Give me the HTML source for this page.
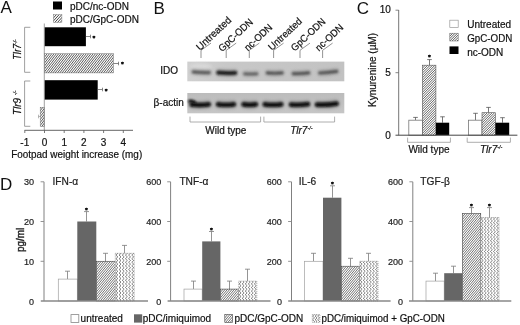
<!DOCTYPE html>
<html><head><meta charset="utf-8"><title>Figure</title>
<style>
html,body{margin:0;padding:0;background:#fff;}
body{width:520px;height:325px;overflow:hidden;}
svg{display:block;font-family:"Liberation Sans",Arial,sans-serif;}
.t{fill:#111;font-size:10px;stroke:#111;stroke-width:0.2px;}
.pl{fill:#111;font-size:17px;}
.d{fill:#222;font-size:9.6px;stroke:#222;stroke-width:0.2px;}
.dt{fill:#222;font-size:10.2px;stroke:#222;stroke-width:0.2px;}
.s{fill:#111;font-size:6px;font-weight:bold;stroke:#111;stroke-width:0.75px;stroke-linejoin:round;text-anchor:middle;}
</style></head><body>
<svg width="520" height="325" viewBox="0 0 520 325">
<defs>
<filter id="bl" filterUnits="userSpaceOnUse" x="180" y="55" width="170" height="65"><feGaussianBlur stdDeviation="0.85"/></filter>
<filter id="bl3" filterUnits="userSpaceOnUse" x="180" y="55" width="170" height="65"><feGaussianBlur stdDeviation="1.4"/></filter>
<linearGradient id="gI" x1="0" y1="0" x2="1" y2="0"><stop offset="0" stop-color="#d0d0d0"/><stop offset="0.25" stop-color="#c8c8c8"/><stop offset="1" stop-color="#c2c2c2"/></linearGradient>
<linearGradient id="gA" x1="0" y1="0" x2="0" y2="1"><stop offset="0" stop-color="#bcbcbc"/><stop offset="1" stop-color="#c6c6c6"/></linearGradient>
<filter id="bl2" filterUnits="userSpaceOnUse" x="180" y="55" width="170" height="65"><feGaussianBlur stdDeviation="0.8"/></filter>
</defs>
<rect width="520" height="325" fill="#fff"/>

<g id="panelA">
<text class="pl" x="0.6" y="13.2">A</text>
<rect x="53" y="1.5" width="9" height="8" fill="#000"/>
<clipPath id="c1"><rect x="53.30" y="14.60" width="8.60" height="7.80"/></clipPath>
<rect x="53.30" y="14.60" width="8.60" height="7.80" fill="#fff"/>
<g clip-path="url(#c1)"><path d="M43.58,22.90L51.50,14.10M46.28,22.90L54.20,14.10M48.98,22.90L56.90,14.10M51.68,22.90L59.60,14.10M54.38,22.90L62.30,14.10M57.08,22.90L65.00,14.10M59.78,22.90L67.70,14.10M62.48,22.90L70.40,14.10" stroke="#222" stroke-width="0.85" fill="none"/></g>
<rect x="53.30" y="14.60" width="8.60" height="7.80" fill="none" stroke="#888" stroke-width="0.5"/>
<text class="t" x="70" y="10">pDC/nc-ODN</text>
<text class="t" x="70" y="22.7">pDC/GpC-ODN</text>
<rect x="44.5" y="27.3" width="41.4" height="18.9" fill="#000"/>
<clipPath id="c2"><rect x="44.50" y="53.70" width="68.95" height="19.20"/></clipPath>
<rect x="44.50" y="53.70" width="68.95" height="19.20" fill="#fff"/>
<g clip-path="url(#c2)"><path d="M27.20,73.40L42.98,53.20M29.50,73.40L45.28,53.20M31.80,73.40L47.58,53.20M34.10,73.40L49.88,53.20M36.40,73.40L52.18,53.20M38.70,73.40L54.48,53.20M41.00,73.40L56.78,53.20M43.30,73.40L59.08,53.20M45.60,73.40L61.38,53.20M47.90,73.40L63.68,53.20M50.20,73.40L65.98,53.20M52.50,73.40L68.28,53.20M54.80,73.40L70.58,53.20M57.10,73.40L72.88,53.20M59.40,73.40L75.18,53.20M61.70,73.40L77.48,53.20M64.00,73.40L79.78,53.20M66.30,73.40L82.08,53.20M68.60,73.40L84.38,53.20M70.90,73.40L86.68,53.20M73.20,73.40L88.98,53.20M75.50,73.40L91.28,53.20M77.80,73.40L93.58,53.20M80.10,73.40L95.88,53.20M82.40,73.40L98.18,53.20M84.70,73.40L100.48,53.20M87.00,73.40L102.78,53.20M89.30,73.40L105.08,53.20M91.60,73.40L107.38,53.20M93.90,73.40L109.68,53.20M96.20,73.40L111.98,53.20M98.50,73.40L114.28,53.20M100.80,73.40L116.58,53.20M103.10,73.40L118.88,53.20M105.40,73.40L121.18,53.20M107.70,73.40L123.48,53.20M110.00,73.40L125.78,53.20M112.30,73.40L128.08,53.20M114.60,73.40L130.38,53.20" stroke="#222" stroke-width="0.74" fill="none"/></g>
<rect x="44.50" y="53.70" width="68.95" height="19.20" fill="none" stroke="#777" stroke-width="0.5"/>
<rect x="44.5" y="80.2" width="53.2" height="19.4" fill="#000"/>
<clipPath id="c3"><rect x="40.20" y="107.30" width="4.20" height="19.30"/></clipPath>
<rect x="40.20" y="107.30" width="4.20" height="19.30" fill="#fff"/>
<g clip-path="url(#c3)"><path d="M22.82,127.10L38.68,106.80M25.12,127.10L40.98,106.80M27.42,127.10L43.28,106.80M29.72,127.10L45.58,106.80M32.02,127.10L47.88,106.80M34.32,127.10L50.18,106.80M36.62,127.10L52.48,106.80M38.92,127.10L54.78,106.80M41.22,127.10L57.08,106.80M43.52,127.10L59.38,106.80M45.82,127.10L61.68,106.80" stroke="#222" stroke-width="0.74" fill="none"/></g>
<rect x="40.20" y="107.30" width="4.20" height="19.30" fill="none" stroke="#777" stroke-width="0.5"/>
<path d="M85.9,36.5 H90.5 M90.5,34.7 V38.3" stroke="#555" stroke-width="0.7" fill="none"/>
<path d="M113.5,63.5 H118.5 M118.5,61.7 V65.3" stroke="#555" stroke-width="0.7" fill="none"/>
<path d="M97.7,89.5 H102.5 M102.5,87.7 V91.3" stroke="#555" stroke-width="0.7" fill="none"/>
<path d="M40.2,116.5 H38.5 M38.5,114.7 V118.3" stroke="#999" stroke-width="0.7" fill="none"/>
<text class="s" x="93.8" y="39.7">*</text>
<text class="s" x="122.4" y="66.2">*</text>
<text class="s" x="106.2" y="93.0">*</text>
<path d="M44.3,23.5 V130.3" stroke="#888" stroke-width="0.8" fill="none"/>
<path d="M24.5,130.3 H133" stroke="#555" stroke-width="0.9" fill="none"/>
<path d="M24.8,130.3 V133" stroke="#555" stroke-width="0.8"/>
<text class="t" x="24.8" y="145.7" text-anchor="middle">-1</text>
<path d="M44.5,130.3 V133" stroke="#555" stroke-width="0.8"/>
<text class="t" x="44.5" y="145.7" text-anchor="middle">0</text>
<path d="M64.2,130.3 V133" stroke="#555" stroke-width="0.8"/>
<text class="t" x="64.2" y="145.7" text-anchor="middle">1</text>
<path d="M83.9,130.3 V133" stroke="#555" stroke-width="0.8"/>
<text class="t" x="83.9" y="145.7" text-anchor="middle">2</text>
<path d="M103.6,130.3 V133" stroke="#555" stroke-width="0.8"/>
<text class="t" x="103.6" y="145.7" text-anchor="middle">3</text>
<path d="M123.3,130.3 V133" stroke="#555" stroke-width="0.8"/>
<text class="t" x="123.3" y="145.7" text-anchor="middle">4</text>
<text class="t" x="11.2" y="157.6" textLength="131" lengthAdjust="spacingAndGlyphs">Footpad weight increase (mg)</text>
<path d="M30.3,27.3 H24.6 V72.3 H30.3" stroke="#888" stroke-width="0.8" fill="none"/>
<path d="M30.3,81 H24.6 V126.3 H30.3" stroke="#888" stroke-width="0.8" fill="none"/>
<text class="t" font-style="italic" transform="translate(20.8,59.8) rotate(-90)" textLength="20.3" lengthAdjust="spacingAndGlyphs">Tlr7<tspan font-size="5" dy="-4">-/-</tspan></text>
<text class="t" font-style="italic" transform="translate(20.8,115) rotate(-90)" textLength="24.5" lengthAdjust="spacingAndGlyphs">Tlr9 <tspan font-size="5" dy="-4">-/-</tspan></text>
</g>
<g id="panelB">
<text class="pl" x="153.6" y="13.6">B</text>
<rect x="187.3" y="61.6" width="157" height="19.7" fill="url(#gI)"/>
<rect x="187.3" y="93" width="157" height="20.3" fill="url(#gA)"/>
<ellipse cx="201" cy="66.5" rx="11" ry="3" fill="#dcdcdc" opacity="0.8" filter="url(#bl3)"/>
<path d="M193.8,71.9 Q201.2,72.8 208.7,72.6" stroke="#787878" stroke-width="5.7" stroke-linecap="round" fill="none" opacity="0.55" filter="url(#bl3)"/>
<path d="M193.1,71.9 Q201.2,72.8 209.4,72.6" stroke="#4c4c4c" stroke-width="2.1" stroke-linecap="round" fill="none" opacity="1" filter="url(#bl)"/>
<path d="M219.2,72.6 Q226.8,73.4 234.3,72.8" stroke="#787878" stroke-width="7.300000000000001" stroke-linecap="round" fill="none" opacity="0.55" filter="url(#bl3)"/>
<path d="M218.3,72.6 Q226.8,73.4 235.2,72.8" stroke="#1c1c1c" stroke-width="3.7" stroke-linecap="round" fill="none" opacity="1" filter="url(#bl)"/>
<path d="M245.3,73.8 Q250.8,74.2 256.2,73.8" stroke="#787878" stroke-width="5.6" stroke-linecap="round" fill="none" opacity="0.55" filter="url(#bl3)"/>
<path d="M244.5,73.8 Q250.8,74.2 257.0,73.8" stroke="#585858" stroke-width="2.0" stroke-linecap="round" fill="none" opacity="1" filter="url(#bl)"/>
<path d="M267.9,72.9 Q274.7,73.6 281.5,72.9" stroke="#787878" stroke-width="5.800000000000001" stroke-linecap="round" fill="none" opacity="0.55" filter="url(#bl3)"/>
<path d="M267.1,72.9 Q274.7,73.6 282.3,72.9" stroke="#464646" stroke-width="2.2" stroke-linecap="round" fill="none" opacity="1" filter="url(#bl)"/>
<path d="M293.9,73.6 Q301.0,74.0 308.1,72.9" stroke="#787878" stroke-width="5.800000000000001" stroke-linecap="round" fill="none" opacity="0.55" filter="url(#bl3)"/>
<path d="M293.1,73.6 Q301.0,74.0 308.9,72.9" stroke="#464646" stroke-width="2.2" stroke-linecap="round" fill="none" opacity="1" filter="url(#bl)"/>
<path d="M320.4,73.0 Q328.2,72.8 336.1,71.4" stroke="#787878" stroke-width="5.800000000000001" stroke-linecap="round" fill="none" opacity="0.55" filter="url(#bl3)"/>
<path d="M319.6,73.0 Q328.2,72.8 336.9,71.4" stroke="#464646" stroke-width="2.2" stroke-linecap="round" fill="none" opacity="1" filter="url(#bl)"/>
<path d="M192.6,104.6 Q200.2,105.5 207.7,104.4" stroke="#707070" stroke-width="8.2" stroke-linecap="round" fill="none" opacity="0.5" filter="url(#bl3)"/>
<path d="M191.7,104.6 Q200.2,105.5 208.7,104.4" stroke="#080808" stroke-width="4.3" stroke-linecap="round" fill="none" opacity="1" filter="url(#bl2)"/>
<path d="M219.1,104.3 Q226.0,105.4 232.9,104.3" stroke="#707070" stroke-width="8.2" stroke-linecap="round" fill="none" opacity="0.5" filter="url(#bl3)"/>
<path d="M218.2,104.3 Q226.0,105.4 233.8,104.3" stroke="#080808" stroke-width="4.3" stroke-linecap="round" fill="none" opacity="1" filter="url(#bl2)"/>
<path d="M244.5,104.3 Q249.7,105.3 254.9,104.3" stroke="#707070" stroke-width="8.2" stroke-linecap="round" fill="none" opacity="0.5" filter="url(#bl3)"/>
<path d="M243.6,104.3 Q249.7,105.3 255.8,104.3" stroke="#080808" stroke-width="4.3" stroke-linecap="round" fill="none" opacity="1" filter="url(#bl2)"/>
<path d="M265.7,104.3 Q273.0,105.4 280.3,104.3" stroke="#707070" stroke-width="8.2" stroke-linecap="round" fill="none" opacity="0.5" filter="url(#bl3)"/>
<path d="M264.8,104.3 Q273.0,105.4 281.2,104.3" stroke="#080808" stroke-width="4.3" stroke-linecap="round" fill="none" opacity="1" filter="url(#bl2)"/>
<path d="M292.1,104.6 Q299.5,105.5 306.9,104.2" stroke="#707070" stroke-width="8.2" stroke-linecap="round" fill="none" opacity="0.5" filter="url(#bl3)"/>
<path d="M291.1,104.6 Q299.5,105.5 307.9,104.2" stroke="#080808" stroke-width="4.3" stroke-linecap="round" fill="none" opacity="1" filter="url(#bl2)"/>
<path d="M318.1,104.6 Q326.9,105.2 335.6,103.6" stroke="#707070" stroke-width="8.2" stroke-linecap="round" fill="none" opacity="0.5" filter="url(#bl3)"/>
<path d="M317.1,104.6 Q326.9,105.2 336.6,103.6" stroke="#080808" stroke-width="4.3" stroke-linecap="round" fill="none" opacity="1" filter="url(#bl2)"/>
<path d="M189.6,101.2 Q192,100.6 194.6,102.6" stroke="#0c0c0c" stroke-width="3.2" stroke-linecap="round" fill="none" filter="url(#bl)"/>
<text class="t" x="160.2" y="74.2">IDO</text>
<text class="t" x="153.6" y="105.8">β-actin</text>
<path d="M201,58 V50.3 L211,43.099999999999994" stroke="#666" stroke-width="0.7" fill="none"/>
<text class="t" transform="translate(200.0,50.9) rotate(-43)" textLength="43.9" lengthAdjust="spacingAndGlyphs">Untreated</text>
<path d="M226.2,58 V50.3 L236.2,43.099999999999994" stroke="#666" stroke-width="0.7" fill="none"/>
<text class="t" transform="translate(222.2,52.2) rotate(-43)" textLength="43" lengthAdjust="spacingAndGlyphs">GpC-ODN</text>
<path d="M249.3,58 V50.3 L259.3,43.099999999999994" stroke="#666" stroke-width="0.7" fill="none"/>
<text class="t" transform="translate(248.0,51.6) rotate(-43)" textLength="34.3" lengthAdjust="spacingAndGlyphs">nc-ODN</text>
<path d="M273.6,58 V50.3 L283.6,43.099999999999994" stroke="#666" stroke-width="0.7" fill="none"/>
<text class="t" transform="translate(271.9,50.9) rotate(-43)" textLength="42.2" lengthAdjust="spacingAndGlyphs">Untreated</text>
<path d="M300,58 V50.3 L310,43.099999999999994" stroke="#666" stroke-width="0.7" fill="none"/>
<text class="t" transform="translate(294.7,51.7) rotate(-43)" textLength="43" lengthAdjust="spacingAndGlyphs">GpC-ODN</text>
<path d="M322.6,58 V50.3 L332.6,43.099999999999994" stroke="#666" stroke-width="0.7" fill="none"/>
<text class="t" transform="translate(319.0,51.7) rotate(-43)" textLength="34.3" lengthAdjust="spacingAndGlyphs">nc-ODN</text>
<path d="M190,116.6 V122 H260.6 V116.6" stroke="#999" stroke-width="0.8" fill="none"/>
<path d="M263.9,116.6 V122 H334.6 V116.6" stroke="#999" stroke-width="0.8" fill="none"/>
<text class="t" x="205.3" y="133.8">Wild type</text>
<text class="t" font-style="italic" x="290.2" y="133.8">Tlr7<tspan font-size="5.5" dy="-4">-/-</tspan></text>
</g>
<g id="panelC">
<text class="pl" x="356.8" y="13.7">C</text>
<text class="t" x="390.8" y="13.4" text-anchor="end">10</text>
<text class="t" x="390.8" y="76.3" text-anchor="end">5</text>
<text class="t" x="390.8" y="138.8" text-anchor="end">0</text>
<text class="t" transform="translate(376.2,107) rotate(-90)">Kynurenine (µM)</text>
<rect x="449.8" y="20.2" width="8.4" height="7.4" fill="#fff" stroke="#999" stroke-width="0.7"/>
<clipPath id="c4"><rect x="449.80" y="33.20" width="8.40" height="7.80"/></clipPath>
<rect x="449.80" y="33.20" width="8.40" height="7.80" fill="#fff"/>
<g clip-path="url(#c4)"><path d="M439.58,41.50L448.38,32.70M442.00,41.50L450.80,32.70M444.42,41.50L453.22,32.70M446.84,41.50L455.64,32.70M449.26,41.50L458.06,32.70M451.68,41.50L460.48,32.70M454.10,41.50L462.90,32.70M456.52,41.50L465.32,32.70M458.94,41.50L467.74,32.70" stroke="#222" stroke-width="0.75" fill="none"/></g>
<rect x="449.80" y="33.20" width="8.40" height="7.80" fill="none" stroke="#666" stroke-width="0.5"/>
<rect x="449.5" y="46.4" width="9" height="7.6" fill="#000"/>
<text class="t" x="467.2" y="28.3">Untreated</text>
<text class="t" x="467.2" y="42.3" textLength="45.1" lengthAdjust="spacingAndGlyphs">GpC-ODN</text>
<text class="t" x="467.2" y="55.7">nc-ODN</text>
<path d="M415.5,120.2 V117.4 M413.2,117.4 H417.8" stroke="#555" stroke-width="0.8" fill="none"/>
<rect x="408.8" y="120.2" width="13.6" height="15.0" fill="#fff" stroke="#777" stroke-width="0.8"/>
<path d="M429.5,65.2 V59.6 M427.2,59.6 H431.8" stroke="#555" stroke-width="0.8" fill="none"/>
<clipPath id="c5"><rect x="422.40" y="65.20" width="13.50" height="70.00"/></clipPath>
<rect x="422.40" y="65.20" width="13.50" height="70.00" fill="#fff"/>
<g clip-path="url(#c5)"><path d="M349.98,135.70L420.98,64.70M352.40,135.70L423.40,64.70M354.82,135.70L425.82,64.70M357.24,135.70L428.24,64.70M359.66,135.70L430.66,64.70M362.08,135.70L433.08,64.70M364.50,135.70L435.50,64.70M366.92,135.70L437.92,64.70M369.34,135.70L440.34,64.70M371.76,135.70L442.76,64.70M374.18,135.70L445.18,64.70M376.60,135.70L447.60,64.70M379.02,135.70L450.02,64.70M381.44,135.70L452.44,64.70M383.86,135.70L454.86,64.70M386.28,135.70L457.28,64.70M388.70,135.70L459.70,64.70M391.12,135.70L462.12,64.70M393.54,135.70L464.54,64.70M395.96,135.70L466.96,64.70M398.38,135.70L469.38,64.70M400.80,135.70L471.80,64.70M403.22,135.70L474.22,64.70M405.64,135.70L476.64,64.70M408.06,135.70L479.06,64.70M410.48,135.70L481.48,64.70M412.90,135.70L483.90,64.70M415.32,135.70L486.32,64.70M417.74,135.70L488.74,64.70M420.16,135.70L491.16,64.70M422.58,135.70L493.58,64.70M425.00,135.70L496.00,64.70M427.42,135.70L498.42,64.70M429.84,135.70L500.84,64.70M432.26,135.70L503.26,64.70M434.68,135.70L505.68,64.70M437.10,135.70L508.10,64.70" stroke="#222" stroke-width="0.7" fill="none"/></g>
<rect x="422.40" y="65.20" width="13.50" height="70.00" fill="none" stroke="#555" stroke-width="0.6"/>
<path d="M442.5,122.7 V116.8 M440.2,116.8 H444.8" stroke="#555" stroke-width="0.8" fill="none"/>
<rect x="435.9" y="122.7" width="13.3" height="12.5" fill="#000"/>
<path d="M475.5,120.2 V113.3 M473.2,113.3 H477.8" stroke="#555" stroke-width="0.8" fill="none"/>
<rect x="468.5" y="120.2" width="13.5" height="15.0" fill="#fff" stroke="#777" stroke-width="0.8"/>
<path d="M488.5,112.7 V107.4 M486.2,107.4 H490.8" stroke="#555" stroke-width="0.8" fill="none"/>
<clipPath id="c6"><rect x="482.00" y="112.70" width="13.40" height="22.50"/></clipPath>
<rect x="482.00" y="112.70" width="13.40" height="22.50" fill="#fff"/>
<g clip-path="url(#c6)"><path d="M457.08,135.70L480.58,112.20M459.50,135.70L483.00,112.20M461.92,135.70L485.42,112.20M464.34,135.70L487.84,112.20M466.76,135.70L490.26,112.20M469.18,135.70L492.68,112.20M471.60,135.70L495.10,112.20M474.02,135.70L497.52,112.20M476.44,135.70L499.94,112.20M478.86,135.70L502.36,112.20M481.28,135.70L504.78,112.20M483.70,135.70L507.20,112.20M486.12,135.70L509.62,112.20M488.54,135.70L512.04,112.20M490.96,135.70L514.46,112.20M493.38,135.70L516.88,112.20M495.80,135.70L519.30,112.20" stroke="#222" stroke-width="0.7" fill="none"/></g>
<rect x="482.00" y="112.70" width="13.40" height="22.50" fill="none" stroke="#555" stroke-width="0.6"/>
<path d="M502.5,122.7 V117.7 M500.2,117.7 H504.8" stroke="#555" stroke-width="0.8" fill="none"/>
<rect x="495.4" y="122.7" width="13.8" height="12.5" fill="#000"/>
<text class="s" x="429.5" y="59.0">*</text>
<path d="M398.7,10 V135.2" stroke="#666" stroke-width="0.9" fill="none"/>
<path d="M395.5,135.2 H517.4" stroke="#444" stroke-width="1" fill="none"/>
<path d="M395.5,10.2 H398.7 M395.5,72.7 H398.7" stroke="#666" stroke-width="0.8" fill="none"/>
<path d="M407.6,137.6 V142.3 H450.4 V137.6" stroke="#999" stroke-width="0.8" fill="none"/>
<path d="M467.2,137.6 V142.3 H510.4 V137.6" stroke="#999" stroke-width="0.8" fill="none"/>
<text class="t" x="408.4" y="153.3">Wild type</text>
<text class="t" font-style="italic" x="480" y="153.3">Tlr7<tspan font-size="5.5" dy="-4">-/-</tspan></text>
</g>
<g id="panelD">
<text class="pl" x="0" y="189.8">D</text>
<text transform="translate(23.6,252) rotate(-90)" font-size="10" fill="#222" stroke="#222" stroke-width="0.4" textLength="24.3" lengthAdjust="spacingAndGlyphs">pg/ml</text>
<path d="M67.5,279.1 V271.2 M65.0,271.2 H70.0" stroke="#7a7a7a" stroke-width="0.8" fill="none"/>
<rect x="58.3" y="279.1" width="19.0" height="21.9" fill="#fff" stroke="#a0a0a0" stroke-width="0.7"/>
<path d="M86.5,221.5 V211.6 M84.0,211.6 H89.0" stroke="#7a7a7a" stroke-width="0.8" fill="none"/>
<rect x="77.3" y="221.5" width="19.0" height="79.5" fill="#666"/>
<text class="s" x="86.5" y="211.7">*</text>
<path d="M105.5,261.3 V253.3 M103.0,253.3 H108.0" stroke="#7a7a7a" stroke-width="0.8" fill="none"/>
<clipPath id="c7"><rect x="96.30" y="261.27" width="19.00" height="39.73"/></clipPath>
<rect x="96.30" y="261.27" width="19.00" height="39.73" fill="#fff"/>
<g clip-path="url(#c7)"><path d="M60.66,301.50L94.84,260.77M62.96,301.50L97.14,260.77M65.26,301.50L99.44,260.77M67.56,301.50L101.74,260.77M69.86,301.50L104.04,260.77M72.16,301.50L106.34,260.77M74.46,301.50L108.64,260.77M76.76,301.50L110.94,260.77M79.06,301.50L113.24,260.77M81.36,301.50L115.54,260.77M83.66,301.50L117.84,260.77M85.96,301.50L120.14,260.77M88.26,301.50L122.44,260.77M90.56,301.50L124.74,260.77M92.86,301.50L127.04,260.77M95.16,301.50L129.34,260.77M97.46,301.50L131.64,260.77M99.76,301.50L133.94,260.77M102.06,301.50L136.24,260.77M104.36,301.50L138.54,260.77M106.66,301.50L140.84,260.77M108.96,301.50L143.14,260.77M111.26,301.50L145.44,260.77M113.56,301.50L147.74,260.77M115.86,301.50L150.04,260.77" stroke="#2a2a2a" stroke-width="0.66" fill="none"/></g>
<rect x="96.30" y="261.27" width="19.00" height="39.73" fill="none" stroke="#444" stroke-width="0.6"/>
<path d="M124.5,253.3 V245.4 M122.0,245.4 H127.0" stroke="#7a7a7a" stroke-width="0.8" fill="none"/>
<clipPath id="c8"><rect x="115.30" y="253.32" width="19.00" height="47.68"/></clipPath>
<rect x="115.30" y="253.32" width="19.00" height="47.68" fill="#fff"/>
<path clip-path="url(#c8)" d="M116.88,301.00Q118.78,300.10 116.88,299.20Q114.98,298.30 116.88,297.40Q118.78,296.50 116.88,295.60Q114.98,294.70 116.88,293.80Q118.78,292.90 116.88,292.00Q114.98,291.10 116.88,290.20Q118.78,289.30 116.88,288.40Q114.98,287.50 116.88,286.60Q118.78,285.70 116.88,284.80Q114.98,283.90 116.88,283.00Q118.78,282.10 116.88,281.20Q114.98,280.30 116.88,279.40Q118.78,278.50 116.88,277.60Q114.98,276.70 116.88,275.80Q118.78,274.90 116.88,274.00Q114.98,273.10 116.88,272.20Q118.78,271.30 116.88,270.40Q114.98,269.50 116.88,268.60Q118.78,267.70 116.88,266.80Q114.98,265.90 116.88,265.00Q118.78,264.10 116.88,263.20Q114.98,262.30 116.88,261.40Q118.78,260.50 116.88,259.60Q114.98,258.70 116.88,257.80Q118.78,256.90 116.88,256.00Q114.98,255.10 116.88,254.20Q118.78,253.30 116.88,252.40Q114.98,251.50 116.88,250.60Q118.78,249.70 116.88,248.80M120.05,301.00Q121.95,300.10 120.05,299.20Q118.15,298.30 120.05,297.40Q121.95,296.50 120.05,295.60Q118.15,294.70 120.05,293.80Q121.95,292.90 120.05,292.00Q118.15,291.10 120.05,290.20Q121.95,289.30 120.05,288.40Q118.15,287.50 120.05,286.60Q121.95,285.70 120.05,284.80Q118.15,283.90 120.05,283.00Q121.95,282.10 120.05,281.20Q118.15,280.30 120.05,279.40Q121.95,278.50 120.05,277.60Q118.15,276.70 120.05,275.80Q121.95,274.90 120.05,274.00Q118.15,273.10 120.05,272.20Q121.95,271.30 120.05,270.40Q118.15,269.50 120.05,268.60Q121.95,267.70 120.05,266.80Q118.15,265.90 120.05,265.00Q121.95,264.10 120.05,263.20Q118.15,262.30 120.05,261.40Q121.95,260.50 120.05,259.60Q118.15,258.70 120.05,257.80Q121.95,256.90 120.05,256.00Q118.15,255.10 120.05,254.20Q121.95,253.30 120.05,252.40Q118.15,251.50 120.05,250.60Q121.95,249.70 120.05,248.80M123.22,301.00Q125.12,300.10 123.22,299.20Q121.32,298.30 123.22,297.40Q125.12,296.50 123.22,295.60Q121.32,294.70 123.22,293.80Q125.12,292.90 123.22,292.00Q121.32,291.10 123.22,290.20Q125.12,289.30 123.22,288.40Q121.32,287.50 123.22,286.60Q125.12,285.70 123.22,284.80Q121.32,283.90 123.22,283.00Q125.12,282.10 123.22,281.20Q121.32,280.30 123.22,279.40Q125.12,278.50 123.22,277.60Q121.32,276.70 123.22,275.80Q125.12,274.90 123.22,274.00Q121.32,273.10 123.22,272.20Q125.12,271.30 123.22,270.40Q121.32,269.50 123.22,268.60Q125.12,267.70 123.22,266.80Q121.32,265.90 123.22,265.00Q125.12,264.10 123.22,263.20Q121.32,262.30 123.22,261.40Q125.12,260.50 123.22,259.60Q121.32,258.70 123.22,257.80Q125.12,256.90 123.22,256.00Q121.32,255.10 123.22,254.20Q125.12,253.30 123.22,252.40Q121.32,251.50 123.22,250.60Q125.12,249.70 123.22,248.80M126.38,301.00Q128.28,300.10 126.38,299.20Q124.48,298.30 126.38,297.40Q128.28,296.50 126.38,295.60Q124.48,294.70 126.38,293.80Q128.28,292.90 126.38,292.00Q124.48,291.10 126.38,290.20Q128.28,289.30 126.38,288.40Q124.48,287.50 126.38,286.60Q128.28,285.70 126.38,284.80Q124.48,283.90 126.38,283.00Q128.28,282.10 126.38,281.20Q124.48,280.30 126.38,279.40Q128.28,278.50 126.38,277.60Q124.48,276.70 126.38,275.80Q128.28,274.90 126.38,274.00Q124.48,273.10 126.38,272.20Q128.28,271.30 126.38,270.40Q124.48,269.50 126.38,268.60Q128.28,267.70 126.38,266.80Q124.48,265.90 126.38,265.00Q128.28,264.10 126.38,263.20Q124.48,262.30 126.38,261.40Q128.28,260.50 126.38,259.60Q124.48,258.70 126.38,257.80Q128.28,256.90 126.38,256.00Q124.48,255.10 126.38,254.20Q128.28,253.30 126.38,252.40Q124.48,251.50 126.38,250.60Q128.28,249.70 126.38,248.80M129.55,301.00Q131.45,300.10 129.55,299.20Q127.65,298.30 129.55,297.40Q131.45,296.50 129.55,295.60Q127.65,294.70 129.55,293.80Q131.45,292.90 129.55,292.00Q127.65,291.10 129.55,290.20Q131.45,289.30 129.55,288.40Q127.65,287.50 129.55,286.60Q131.45,285.70 129.55,284.80Q127.65,283.90 129.55,283.00Q131.45,282.10 129.55,281.20Q127.65,280.30 129.55,279.40Q131.45,278.50 129.55,277.60Q127.65,276.70 129.55,275.80Q131.45,274.90 129.55,274.00Q127.65,273.10 129.55,272.20Q131.45,271.30 129.55,270.40Q127.65,269.50 129.55,268.60Q131.45,267.70 129.55,266.80Q127.65,265.90 129.55,265.00Q131.45,264.10 129.55,263.20Q127.65,262.30 129.55,261.40Q131.45,260.50 129.55,259.60Q127.65,258.70 129.55,257.80Q131.45,256.90 129.55,256.00Q127.65,255.10 129.55,254.20Q131.45,253.30 129.55,252.40Q127.65,251.50 129.55,250.60Q131.45,249.70 129.55,248.80M132.72,301.00Q134.62,300.10 132.72,299.20Q130.82,298.30 132.72,297.40Q134.62,296.50 132.72,295.60Q130.82,294.70 132.72,293.80Q134.62,292.90 132.72,292.00Q130.82,291.10 132.72,290.20Q134.62,289.30 132.72,288.40Q130.82,287.50 132.72,286.60Q134.62,285.70 132.72,284.80Q130.82,283.90 132.72,283.00Q134.62,282.10 132.72,281.20Q130.82,280.30 132.72,279.40Q134.62,278.50 132.72,277.60Q130.82,276.70 132.72,275.80Q134.62,274.90 132.72,274.00Q130.82,273.10 132.72,272.20Q134.62,271.30 132.72,270.40Q130.82,269.50 132.72,268.60Q134.62,267.70 132.72,266.80Q130.82,265.90 132.72,265.00Q134.62,264.10 132.72,263.20Q130.82,262.30 132.72,261.40Q134.62,260.50 132.72,259.60Q130.82,258.70 132.72,257.80Q134.62,256.90 132.72,256.00Q130.82,255.10 132.72,254.20Q134.62,253.30 132.72,252.40Q130.82,251.50 132.72,250.60Q134.62,249.70 132.72,248.80" stroke="#4a4a4a" stroke-width="0.72" fill="none"/>
<rect x="115.30" y="253.32" width="19.00" height="47.68" fill="none" stroke="#777" stroke-width="0.6" stroke-dasharray="1.1,0.9"/>
<path d="M44,181.8 V301.0" stroke="#808080" stroke-width="1.0" fill="none"/>
<path d="M40.8,301.0 H148" stroke="#888" stroke-width="1.3" fill="none"/>
<text class="d" x="34" y="304.5" text-anchor="end" textLength="5.0" lengthAdjust="spacingAndGlyphs">0</text>
<path d="M40.6,261.3 H44" stroke="#888" stroke-width="0.9" fill="none"/>
<text class="d" x="34" y="264.8" text-anchor="end" textLength="10.1" lengthAdjust="spacingAndGlyphs">10</text>
<path d="M40.6,221.5 H44" stroke="#888" stroke-width="0.9" fill="none"/>
<text class="d" x="34" y="225.0" text-anchor="end" textLength="10.1" lengthAdjust="spacingAndGlyphs">20</text>
<path d="M40.6,181.8 H44" stroke="#888" stroke-width="0.9" fill="none"/>
<text class="d" x="34" y="185.3" text-anchor="end" textLength="10.1" lengthAdjust="spacingAndGlyphs">30</text>
<text class="dt" x="52.5" y="185">IFN-α</text>
<path d="M193.5,289.1 V281.1 M191.0,281.1 H196.0" stroke="#7a7a7a" stroke-width="0.8" fill="none"/>
<rect x="184.0" y="289.1" width="18.2" height="11.9" fill="#fff" stroke="#a0a0a0" stroke-width="0.7"/>
<path d="M211.5,241.4 V231.5 M209.0,231.5 H214.0" stroke="#7a7a7a" stroke-width="0.8" fill="none"/>
<rect x="202.2" y="241.4" width="18.2" height="59.6" fill="#666"/>
<text class="s" x="211.5" y="231.6">*</text>
<path d="M229.5,289.1 V281.1 M227.0,281.1 H232.0" stroke="#7a7a7a" stroke-width="0.8" fill="none"/>
<clipPath id="c9"><rect x="220.40" y="289.08" width="18.20" height="11.92"/></clipPath>
<rect x="220.40" y="289.08" width="18.20" height="11.92" fill="#fff"/>
<g clip-path="url(#c9)"><path d="M208.10,301.50L218.94,288.58M210.40,301.50L221.24,288.58M212.70,301.50L223.54,288.58M215.00,301.50L225.84,288.58M217.30,301.50L228.14,288.58M219.60,301.50L230.44,288.58M221.90,301.50L232.74,288.58M224.20,301.50L235.04,288.58M226.50,301.50L237.34,288.58M228.80,301.50L239.64,288.58M231.10,301.50L241.94,288.58M233.40,301.50L244.24,288.58M235.70,301.50L246.54,288.58M238.00,301.50L248.84,288.58M240.30,301.50L251.14,288.58" stroke="#2a2a2a" stroke-width="0.66" fill="none"/></g>
<rect x="220.40" y="289.08" width="18.20" height="11.92" fill="none" stroke="#444" stroke-width="0.6"/>
<path d="M247.5,281.1 V269.2 M245.0,269.2 H250.0" stroke="#7a7a7a" stroke-width="0.8" fill="none"/>
<clipPath id="c10"><rect x="238.60" y="281.13" width="18.20" height="19.87"/></clipPath>
<rect x="238.60" y="281.13" width="18.20" height="19.87" fill="#fff"/>
<path clip-path="url(#c10)" d="M240.12,301.00Q242.02,300.10 240.12,299.20Q238.22,298.30 240.12,297.40Q242.02,296.50 240.12,295.60Q238.22,294.70 240.12,293.80Q242.02,292.90 240.12,292.00Q238.22,291.10 240.12,290.20Q242.02,289.30 240.12,288.40Q238.22,287.50 240.12,286.60Q242.02,285.70 240.12,284.80Q238.22,283.90 240.12,283.00Q242.02,282.10 240.12,281.20Q238.22,280.30 240.12,279.40Q242.02,278.50 240.12,277.60Q238.22,276.70 240.12,275.80M243.15,301.00Q245.05,300.10 243.15,299.20Q241.25,298.30 243.15,297.40Q245.05,296.50 243.15,295.60Q241.25,294.70 243.15,293.80Q245.05,292.90 243.15,292.00Q241.25,291.10 243.15,290.20Q245.05,289.30 243.15,288.40Q241.25,287.50 243.15,286.60Q245.05,285.70 243.15,284.80Q241.25,283.90 243.15,283.00Q245.05,282.10 243.15,281.20Q241.25,280.30 243.15,279.40Q245.05,278.50 243.15,277.60Q241.25,276.70 243.15,275.80M246.18,301.00Q248.08,300.10 246.18,299.20Q244.28,298.30 246.18,297.40Q248.08,296.50 246.18,295.60Q244.28,294.70 246.18,293.80Q248.08,292.90 246.18,292.00Q244.28,291.10 246.18,290.20Q248.08,289.30 246.18,288.40Q244.28,287.50 246.18,286.60Q248.08,285.70 246.18,284.80Q244.28,283.90 246.18,283.00Q248.08,282.10 246.18,281.20Q244.28,280.30 246.18,279.40Q248.08,278.50 246.18,277.60Q244.28,276.70 246.18,275.80M249.22,301.00Q251.12,300.10 249.22,299.20Q247.32,298.30 249.22,297.40Q251.12,296.50 249.22,295.60Q247.32,294.70 249.22,293.80Q251.12,292.90 249.22,292.00Q247.32,291.10 249.22,290.20Q251.12,289.30 249.22,288.40Q247.32,287.50 249.22,286.60Q251.12,285.70 249.22,284.80Q247.32,283.90 249.22,283.00Q251.12,282.10 249.22,281.20Q247.32,280.30 249.22,279.40Q251.12,278.50 249.22,277.60Q247.32,276.70 249.22,275.80M252.25,301.00Q254.15,300.10 252.25,299.20Q250.35,298.30 252.25,297.40Q254.15,296.50 252.25,295.60Q250.35,294.70 252.25,293.80Q254.15,292.90 252.25,292.00Q250.35,291.10 252.25,290.20Q254.15,289.30 252.25,288.40Q250.35,287.50 252.25,286.60Q254.15,285.70 252.25,284.80Q250.35,283.90 252.25,283.00Q254.15,282.10 252.25,281.20Q250.35,280.30 252.25,279.40Q254.15,278.50 252.25,277.60Q250.35,276.70 252.25,275.80M255.28,301.00Q257.18,300.10 255.28,299.20Q253.38,298.30 255.28,297.40Q257.18,296.50 255.28,295.60Q253.38,294.70 255.28,293.80Q257.18,292.90 255.28,292.00Q253.38,291.10 255.28,290.20Q257.18,289.30 255.28,288.40Q253.38,287.50 255.28,286.60Q257.18,285.70 255.28,284.80Q253.38,283.90 255.28,283.00Q257.18,282.10 255.28,281.20Q253.38,280.30 255.28,279.40Q257.18,278.50 255.28,277.60Q253.38,276.70 255.28,275.80" stroke="#4a4a4a" stroke-width="0.72" fill="none"/>
<rect x="238.60" y="281.13" width="18.20" height="19.87" fill="none" stroke="#777" stroke-width="0.6" stroke-dasharray="1.1,0.9"/>
<path d="M170.6,181.8 V301.0" stroke="#808080" stroke-width="1.0" fill="none"/>
<path d="M167.6,301.0 H270.5" stroke="#888" stroke-width="1.3" fill="none"/>
<text class="d" x="161.3" y="304.5" text-anchor="end" textLength="5.0" lengthAdjust="spacingAndGlyphs">0</text>
<path d="M167.2,261.3 H170.6" stroke="#888" stroke-width="0.9" fill="none"/>
<text class="d" x="161.3" y="264.8" text-anchor="end" textLength="15.1" lengthAdjust="spacingAndGlyphs">200</text>
<path d="M167.2,221.5 H170.6" stroke="#888" stroke-width="0.9" fill="none"/>
<text class="d" x="161.3" y="225.0" text-anchor="end" textLength="15.1" lengthAdjust="spacingAndGlyphs">400</text>
<path d="M167.2,181.8 H170.6" stroke="#888" stroke-width="0.9" fill="none"/>
<text class="d" x="161.3" y="185.3" text-anchor="end" textLength="15.1" lengthAdjust="spacingAndGlyphs">600</text>
<text class="dt" x="179.4" y="185">TNF-α</text>
<path d="M313.5,261.3 V253.3 M311.0,253.3 H316.0" stroke="#7a7a7a" stroke-width="0.8" fill="none"/>
<rect x="304.6" y="261.3" width="18.4" height="39.7" fill="#fff" stroke="#a0a0a0" stroke-width="0.7"/>
<path d="M332.5,197.7 V185.8 M330.0,185.8 H335.0" stroke="#7a7a7a" stroke-width="0.8" fill="none"/>
<rect x="323.0" y="197.7" width="18.4" height="103.3" fill="#666"/>
<text class="s" x="332.5" y="185.9">*</text>
<path d="M350.5,266.2 V258.3 M348.0,258.3 H353.0" stroke="#7a7a7a" stroke-width="0.8" fill="none"/>
<clipPath id="c11"><rect x="341.30" y="266.23" width="18.35" height="34.77"/></clipPath>
<rect x="341.30" y="266.23" width="18.35" height="34.77" fill="#fff"/>
<g clip-path="url(#c11)"><path d="M309.83,301.50L339.84,265.73M312.13,301.50L342.14,265.73M314.43,301.50L344.44,265.73M316.73,301.50L346.74,265.73M319.03,301.50L349.04,265.73M321.33,301.50L351.34,265.73M323.63,301.50L353.64,265.73M325.93,301.50L355.94,265.73M328.23,301.50L358.24,265.73M330.53,301.50L360.54,265.73M332.83,301.50L362.84,265.73M335.13,301.50L365.14,265.73M337.43,301.50L367.44,265.73M339.73,301.50L369.74,265.73M342.03,301.50L372.04,265.73M344.33,301.50L374.34,265.73M346.63,301.50L376.64,265.73M348.93,301.50L378.94,265.73M351.23,301.50L381.24,265.73M353.53,301.50L383.54,265.73M355.83,301.50L385.84,265.73M358.13,301.50L388.14,265.73M360.43,301.50L390.44,265.73" stroke="#2a2a2a" stroke-width="0.66" fill="none"/></g>
<rect x="341.30" y="266.23" width="18.35" height="34.77" fill="none" stroke="#444" stroke-width="0.6"/>
<path d="M368.5,261.3 V253.3 M366.0,253.3 H371.0" stroke="#7a7a7a" stroke-width="0.8" fill="none"/>
<clipPath id="c12"><rect x="359.65" y="261.27" width="18.35" height="39.73"/></clipPath>
<rect x="359.65" y="261.27" width="18.35" height="39.73" fill="#fff"/>
<path clip-path="url(#c12)" d="M361.18,301.00Q363.08,300.10 361.18,299.20Q359.28,298.30 361.18,297.40Q363.08,296.50 361.18,295.60Q359.28,294.70 361.18,293.80Q363.08,292.90 361.18,292.00Q359.28,291.10 361.18,290.20Q363.08,289.30 361.18,288.40Q359.28,287.50 361.18,286.60Q363.08,285.70 361.18,284.80Q359.28,283.90 361.18,283.00Q363.08,282.10 361.18,281.20Q359.28,280.30 361.18,279.40Q363.08,278.50 361.18,277.60Q359.28,276.70 361.18,275.80Q363.08,274.90 361.18,274.00Q359.28,273.10 361.18,272.20Q363.08,271.30 361.18,270.40Q359.28,269.50 361.18,268.60Q363.08,267.70 361.18,266.80Q359.28,265.90 361.18,265.00Q363.08,264.10 361.18,263.20Q359.28,262.30 361.18,261.40Q363.08,260.50 361.18,259.60Q359.28,258.70 361.18,257.80Q363.08,256.90 361.18,256.00M364.24,301.00Q366.14,300.10 364.24,299.20Q362.34,298.30 364.24,297.40Q366.14,296.50 364.24,295.60Q362.34,294.70 364.24,293.80Q366.14,292.90 364.24,292.00Q362.34,291.10 364.24,290.20Q366.14,289.30 364.24,288.40Q362.34,287.50 364.24,286.60Q366.14,285.70 364.24,284.80Q362.34,283.90 364.24,283.00Q366.14,282.10 364.24,281.20Q362.34,280.30 364.24,279.40Q366.14,278.50 364.24,277.60Q362.34,276.70 364.24,275.80Q366.14,274.90 364.24,274.00Q362.34,273.10 364.24,272.20Q366.14,271.30 364.24,270.40Q362.34,269.50 364.24,268.60Q366.14,267.70 364.24,266.80Q362.34,265.90 364.24,265.00Q366.14,264.10 364.24,263.20Q362.34,262.30 364.24,261.40Q366.14,260.50 364.24,259.60Q362.34,258.70 364.24,257.80Q366.14,256.90 364.24,256.00M367.30,301.00Q369.20,300.10 367.30,299.20Q365.40,298.30 367.30,297.40Q369.20,296.50 367.30,295.60Q365.40,294.70 367.30,293.80Q369.20,292.90 367.30,292.00Q365.40,291.10 367.30,290.20Q369.20,289.30 367.30,288.40Q365.40,287.50 367.30,286.60Q369.20,285.70 367.30,284.80Q365.40,283.90 367.30,283.00Q369.20,282.10 367.30,281.20Q365.40,280.30 367.30,279.40Q369.20,278.50 367.30,277.60Q365.40,276.70 367.30,275.80Q369.20,274.90 367.30,274.00Q365.40,273.10 367.30,272.20Q369.20,271.30 367.30,270.40Q365.40,269.50 367.30,268.60Q369.20,267.70 367.30,266.80Q365.40,265.90 367.30,265.00Q369.20,264.10 367.30,263.20Q365.40,262.30 367.30,261.40Q369.20,260.50 367.30,259.60Q365.40,258.70 367.30,257.80Q369.20,256.90 367.30,256.00M370.35,301.00Q372.25,300.10 370.35,299.20Q368.45,298.30 370.35,297.40Q372.25,296.50 370.35,295.60Q368.45,294.70 370.35,293.80Q372.25,292.90 370.35,292.00Q368.45,291.10 370.35,290.20Q372.25,289.30 370.35,288.40Q368.45,287.50 370.35,286.60Q372.25,285.70 370.35,284.80Q368.45,283.90 370.35,283.00Q372.25,282.10 370.35,281.20Q368.45,280.30 370.35,279.40Q372.25,278.50 370.35,277.60Q368.45,276.70 370.35,275.80Q372.25,274.90 370.35,274.00Q368.45,273.10 370.35,272.20Q372.25,271.30 370.35,270.40Q368.45,269.50 370.35,268.60Q372.25,267.70 370.35,266.80Q368.45,265.90 370.35,265.00Q372.25,264.10 370.35,263.20Q368.45,262.30 370.35,261.40Q372.25,260.50 370.35,259.60Q368.45,258.70 370.35,257.80Q372.25,256.90 370.35,256.00M373.41,301.00Q375.31,300.10 373.41,299.20Q371.51,298.30 373.41,297.40Q375.31,296.50 373.41,295.60Q371.51,294.70 373.41,293.80Q375.31,292.90 373.41,292.00Q371.51,291.10 373.41,290.20Q375.31,289.30 373.41,288.40Q371.51,287.50 373.41,286.60Q375.31,285.70 373.41,284.80Q371.51,283.90 373.41,283.00Q375.31,282.10 373.41,281.20Q371.51,280.30 373.41,279.40Q375.31,278.50 373.41,277.60Q371.51,276.70 373.41,275.80Q375.31,274.90 373.41,274.00Q371.51,273.10 373.41,272.20Q375.31,271.30 373.41,270.40Q371.51,269.50 373.41,268.60Q375.31,267.70 373.41,266.80Q371.51,265.90 373.41,265.00Q375.31,264.10 373.41,263.20Q371.51,262.30 373.41,261.40Q375.31,260.50 373.41,259.60Q371.51,258.70 373.41,257.80Q375.31,256.90 373.41,256.00M376.47,301.00Q378.37,300.10 376.47,299.20Q374.57,298.30 376.47,297.40Q378.37,296.50 376.47,295.60Q374.57,294.70 376.47,293.80Q378.37,292.90 376.47,292.00Q374.57,291.10 376.47,290.20Q378.37,289.30 376.47,288.40Q374.57,287.50 376.47,286.60Q378.37,285.70 376.47,284.80Q374.57,283.90 376.47,283.00Q378.37,282.10 376.47,281.20Q374.57,280.30 376.47,279.40Q378.37,278.50 376.47,277.60Q374.57,276.70 376.47,275.80Q378.37,274.90 376.47,274.00Q374.57,273.10 376.47,272.20Q378.37,271.30 376.47,270.40Q374.57,269.50 376.47,268.60Q378.37,267.70 376.47,266.80Q374.57,265.90 376.47,265.00Q378.37,264.10 376.47,263.20Q374.57,262.30 376.47,261.40Q378.37,260.50 376.47,259.60Q374.57,258.70 376.47,257.80Q378.37,256.90 376.47,256.00" stroke="#4a4a4a" stroke-width="0.72" fill="none"/>
<rect x="359.65" y="261.27" width="18.35" height="39.73" fill="none" stroke="#777" stroke-width="0.6" stroke-dasharray="1.1,0.9"/>
<path d="M291.5,181.8 V301.0" stroke="#808080" stroke-width="1.0" fill="none"/>
<path d="M288.2,301.0 H390.6" stroke="#888" stroke-width="1.3" fill="none"/>
<text class="d" x="281.9" y="304.5" text-anchor="end" textLength="5.0" lengthAdjust="spacingAndGlyphs">0</text>
<path d="M288.1,261.3 H291.5" stroke="#888" stroke-width="0.9" fill="none"/>
<text class="d" x="281.9" y="264.8" text-anchor="end" textLength="15.1" lengthAdjust="spacingAndGlyphs">200</text>
<path d="M288.1,221.5 H291.5" stroke="#888" stroke-width="0.9" fill="none"/>
<text class="d" x="281.9" y="225.0" text-anchor="end" textLength="15.1" lengthAdjust="spacingAndGlyphs">400</text>
<path d="M288.1,181.8 H291.5" stroke="#888" stroke-width="0.9" fill="none"/>
<text class="d" x="281.9" y="185.3" text-anchor="end" textLength="15.1" lengthAdjust="spacingAndGlyphs">600</text>
<text class="dt" x="298.7" y="185">IL-6</text>
<path d="M435.5,281.1 V273.2 M433.0,273.2 H438.0" stroke="#7a7a7a" stroke-width="0.8" fill="none"/>
<rect x="426.0" y="281.1" width="18.2" height="19.9" fill="#fff" stroke="#a0a0a0" stroke-width="0.7"/>
<path d="M453.5,273.2 V266.2 M451.0,266.2 H456.0" stroke="#7a7a7a" stroke-width="0.8" fill="none"/>
<rect x="444.2" y="273.2" width="18.2" height="27.8" fill="#666"/>
<path d="M471.5,213.6 V207.6 M469.0,207.6 H474.0" stroke="#7a7a7a" stroke-width="0.8" fill="none"/>
<clipPath id="c13"><rect x="462.50" y="213.59" width="18.25" height="87.41"/></clipPath>
<rect x="462.50" y="213.59" width="18.25" height="87.41" fill="#fff"/>
<g clip-path="url(#c13)"><path d="M386.85,301.50L461.04,213.09M389.15,301.50L463.34,213.09M391.45,301.50L465.64,213.09M393.75,301.50L467.94,213.09M396.05,301.50L470.24,213.09M398.35,301.50L472.54,213.09M400.65,301.50L474.84,213.09M402.95,301.50L477.14,213.09M405.25,301.50L479.44,213.09M407.55,301.50L481.74,213.09M409.85,301.50L484.04,213.09M412.15,301.50L486.34,213.09M414.45,301.50L488.64,213.09M416.75,301.50L490.94,213.09M419.05,301.50L493.24,213.09M421.35,301.50L495.54,213.09M423.65,301.50L497.84,213.09M425.95,301.50L500.14,213.09M428.25,301.50L502.44,213.09M430.55,301.50L504.74,213.09M432.85,301.50L507.04,213.09M435.15,301.50L509.34,213.09M437.45,301.50L511.64,213.09M439.75,301.50L513.94,213.09M442.05,301.50L516.24,213.09M444.35,301.50L518.54,213.09M446.65,301.50L520.84,213.09M448.95,301.50L523.14,213.09M451.25,301.50L525.44,213.09M453.55,301.50L527.74,213.09M455.85,301.50L530.04,213.09M458.15,301.50L532.34,213.09M460.45,301.50L534.64,213.09M462.75,301.50L536.94,213.09M465.05,301.50L539.24,213.09M467.35,301.50L541.54,213.09M469.65,301.50L543.84,213.09M471.95,301.50L546.14,213.09M474.25,301.50L548.44,213.09M476.55,301.50L550.74,213.09M478.85,301.50L553.04,213.09M481.15,301.50L555.34,213.09" stroke="#2a2a2a" stroke-width="0.66" fill="none"/></g>
<rect x="462.50" y="213.59" width="18.25" height="87.41" fill="none" stroke="#444" stroke-width="0.6"/>
<text class="s" x="471.5" y="207.7">*</text>
<path d="M489.5,217.6 V207.6 M487.0,207.6 H492.0" stroke="#7a7a7a" stroke-width="0.8" fill="none"/>
<clipPath id="c14"><rect x="480.75" y="217.56" width="18.25" height="83.44"/></clipPath>
<rect x="480.75" y="217.56" width="18.25" height="83.44" fill="#fff"/>
<path clip-path="url(#c14)" d="M482.27,301.00Q484.17,300.10 482.27,299.20Q480.37,298.30 482.27,297.40Q484.17,296.50 482.27,295.60Q480.37,294.70 482.27,293.80Q484.17,292.90 482.27,292.00Q480.37,291.10 482.27,290.20Q484.17,289.30 482.27,288.40Q480.37,287.50 482.27,286.60Q484.17,285.70 482.27,284.80Q480.37,283.90 482.27,283.00Q484.17,282.10 482.27,281.20Q480.37,280.30 482.27,279.40Q484.17,278.50 482.27,277.60Q480.37,276.70 482.27,275.80Q484.17,274.90 482.27,274.00Q480.37,273.10 482.27,272.20Q484.17,271.30 482.27,270.40Q480.37,269.50 482.27,268.60Q484.17,267.70 482.27,266.80Q480.37,265.90 482.27,265.00Q484.17,264.10 482.27,263.20Q480.37,262.30 482.27,261.40Q484.17,260.50 482.27,259.60Q480.37,258.70 482.27,257.80Q484.17,256.90 482.27,256.00Q480.37,255.10 482.27,254.20Q484.17,253.30 482.27,252.40Q480.37,251.50 482.27,250.60Q484.17,249.70 482.27,248.80Q480.37,247.90 482.27,247.00Q484.17,246.10 482.27,245.20Q480.37,244.30 482.27,243.40Q484.17,242.50 482.27,241.60Q480.37,240.70 482.27,239.80Q484.17,238.90 482.27,238.00Q480.37,237.10 482.27,236.20Q484.17,235.30 482.27,234.40Q480.37,233.50 482.27,232.60Q484.17,231.70 482.27,230.80Q480.37,229.90 482.27,229.00Q484.17,228.10 482.27,227.20Q480.37,226.30 482.27,225.40Q484.17,224.50 482.27,223.60Q480.37,222.70 482.27,221.80Q484.17,220.90 482.27,220.00Q480.37,219.10 482.27,218.20Q484.17,217.30 482.27,216.40Q480.37,215.50 482.27,214.60Q484.17,213.70 482.27,212.80M485.31,301.00Q487.21,300.10 485.31,299.20Q483.41,298.30 485.31,297.40Q487.21,296.50 485.31,295.60Q483.41,294.70 485.31,293.80Q487.21,292.90 485.31,292.00Q483.41,291.10 485.31,290.20Q487.21,289.30 485.31,288.40Q483.41,287.50 485.31,286.60Q487.21,285.70 485.31,284.80Q483.41,283.90 485.31,283.00Q487.21,282.10 485.31,281.20Q483.41,280.30 485.31,279.40Q487.21,278.50 485.31,277.60Q483.41,276.70 485.31,275.80Q487.21,274.90 485.31,274.00Q483.41,273.10 485.31,272.20Q487.21,271.30 485.31,270.40Q483.41,269.50 485.31,268.60Q487.21,267.70 485.31,266.80Q483.41,265.90 485.31,265.00Q487.21,264.10 485.31,263.20Q483.41,262.30 485.31,261.40Q487.21,260.50 485.31,259.60Q483.41,258.70 485.31,257.80Q487.21,256.90 485.31,256.00Q483.41,255.10 485.31,254.20Q487.21,253.30 485.31,252.40Q483.41,251.50 485.31,250.60Q487.21,249.70 485.31,248.80Q483.41,247.90 485.31,247.00Q487.21,246.10 485.31,245.20Q483.41,244.30 485.31,243.40Q487.21,242.50 485.31,241.60Q483.41,240.70 485.31,239.80Q487.21,238.90 485.31,238.00Q483.41,237.10 485.31,236.20Q487.21,235.30 485.31,234.40Q483.41,233.50 485.31,232.60Q487.21,231.70 485.31,230.80Q483.41,229.90 485.31,229.00Q487.21,228.10 485.31,227.20Q483.41,226.30 485.31,225.40Q487.21,224.50 485.31,223.60Q483.41,222.70 485.31,221.80Q487.21,220.90 485.31,220.00Q483.41,219.10 485.31,218.20Q487.21,217.30 485.31,216.40Q483.41,215.50 485.31,214.60Q487.21,213.70 485.31,212.80M488.35,301.00Q490.25,300.10 488.35,299.20Q486.45,298.30 488.35,297.40Q490.25,296.50 488.35,295.60Q486.45,294.70 488.35,293.80Q490.25,292.90 488.35,292.00Q486.45,291.10 488.35,290.20Q490.25,289.30 488.35,288.40Q486.45,287.50 488.35,286.60Q490.25,285.70 488.35,284.80Q486.45,283.90 488.35,283.00Q490.25,282.10 488.35,281.20Q486.45,280.30 488.35,279.40Q490.25,278.50 488.35,277.60Q486.45,276.70 488.35,275.80Q490.25,274.90 488.35,274.00Q486.45,273.10 488.35,272.20Q490.25,271.30 488.35,270.40Q486.45,269.50 488.35,268.60Q490.25,267.70 488.35,266.80Q486.45,265.90 488.35,265.00Q490.25,264.10 488.35,263.20Q486.45,262.30 488.35,261.40Q490.25,260.50 488.35,259.60Q486.45,258.70 488.35,257.80Q490.25,256.90 488.35,256.00Q486.45,255.10 488.35,254.20Q490.25,253.30 488.35,252.40Q486.45,251.50 488.35,250.60Q490.25,249.70 488.35,248.80Q486.45,247.90 488.35,247.00Q490.25,246.10 488.35,245.20Q486.45,244.30 488.35,243.40Q490.25,242.50 488.35,241.60Q486.45,240.70 488.35,239.80Q490.25,238.90 488.35,238.00Q486.45,237.10 488.35,236.20Q490.25,235.30 488.35,234.40Q486.45,233.50 488.35,232.60Q490.25,231.70 488.35,230.80Q486.45,229.90 488.35,229.00Q490.25,228.10 488.35,227.20Q486.45,226.30 488.35,225.40Q490.25,224.50 488.35,223.60Q486.45,222.70 488.35,221.80Q490.25,220.90 488.35,220.00Q486.45,219.10 488.35,218.20Q490.25,217.30 488.35,216.40Q486.45,215.50 488.35,214.60Q490.25,213.70 488.35,212.80M491.40,301.00Q493.30,300.10 491.40,299.20Q489.50,298.30 491.40,297.40Q493.30,296.50 491.40,295.60Q489.50,294.70 491.40,293.80Q493.30,292.90 491.40,292.00Q489.50,291.10 491.40,290.20Q493.30,289.30 491.40,288.40Q489.50,287.50 491.40,286.60Q493.30,285.70 491.40,284.80Q489.50,283.90 491.40,283.00Q493.30,282.10 491.40,281.20Q489.50,280.30 491.40,279.40Q493.30,278.50 491.40,277.60Q489.50,276.70 491.40,275.80Q493.30,274.90 491.40,274.00Q489.50,273.10 491.40,272.20Q493.30,271.30 491.40,270.40Q489.50,269.50 491.40,268.60Q493.30,267.70 491.40,266.80Q489.50,265.90 491.40,265.00Q493.30,264.10 491.40,263.20Q489.50,262.30 491.40,261.40Q493.30,260.50 491.40,259.60Q489.50,258.70 491.40,257.80Q493.30,256.90 491.40,256.00Q489.50,255.10 491.40,254.20Q493.30,253.30 491.40,252.40Q489.50,251.50 491.40,250.60Q493.30,249.70 491.40,248.80Q489.50,247.90 491.40,247.00Q493.30,246.10 491.40,245.20Q489.50,244.30 491.40,243.40Q493.30,242.50 491.40,241.60Q489.50,240.70 491.40,239.80Q493.30,238.90 491.40,238.00Q489.50,237.10 491.40,236.20Q493.30,235.30 491.40,234.40Q489.50,233.50 491.40,232.60Q493.30,231.70 491.40,230.80Q489.50,229.90 491.40,229.00Q493.30,228.10 491.40,227.20Q489.50,226.30 491.40,225.40Q493.30,224.50 491.40,223.60Q489.50,222.70 491.40,221.80Q493.30,220.90 491.40,220.00Q489.50,219.10 491.40,218.20Q493.30,217.30 491.40,216.40Q489.50,215.50 491.40,214.60Q493.30,213.70 491.40,212.80M494.44,301.00Q496.34,300.10 494.44,299.20Q492.54,298.30 494.44,297.40Q496.34,296.50 494.44,295.60Q492.54,294.70 494.44,293.80Q496.34,292.90 494.44,292.00Q492.54,291.10 494.44,290.20Q496.34,289.30 494.44,288.40Q492.54,287.50 494.44,286.60Q496.34,285.70 494.44,284.80Q492.54,283.90 494.44,283.00Q496.34,282.10 494.44,281.20Q492.54,280.30 494.44,279.40Q496.34,278.50 494.44,277.60Q492.54,276.70 494.44,275.80Q496.34,274.90 494.44,274.00Q492.54,273.10 494.44,272.20Q496.34,271.30 494.44,270.40Q492.54,269.50 494.44,268.60Q496.34,267.70 494.44,266.80Q492.54,265.90 494.44,265.00Q496.34,264.10 494.44,263.20Q492.54,262.30 494.44,261.40Q496.34,260.50 494.44,259.60Q492.54,258.70 494.44,257.80Q496.34,256.90 494.44,256.00Q492.54,255.10 494.44,254.20Q496.34,253.30 494.44,252.40Q492.54,251.50 494.44,250.60Q496.34,249.70 494.44,248.80Q492.54,247.90 494.44,247.00Q496.34,246.10 494.44,245.20Q492.54,244.30 494.44,243.40Q496.34,242.50 494.44,241.60Q492.54,240.70 494.44,239.80Q496.34,238.90 494.44,238.00Q492.54,237.10 494.44,236.20Q496.34,235.30 494.44,234.40Q492.54,233.50 494.44,232.60Q496.34,231.70 494.44,230.80Q492.54,229.90 494.44,229.00Q496.34,228.10 494.44,227.20Q492.54,226.30 494.44,225.40Q496.34,224.50 494.44,223.60Q492.54,222.70 494.44,221.80Q496.34,220.90 494.44,220.00Q492.54,219.10 494.44,218.20Q496.34,217.30 494.44,216.40Q492.54,215.50 494.44,214.60Q496.34,213.70 494.44,212.80M497.48,301.00Q499.38,300.10 497.48,299.20Q495.58,298.30 497.48,297.40Q499.38,296.50 497.48,295.60Q495.58,294.70 497.48,293.80Q499.38,292.90 497.48,292.00Q495.58,291.10 497.48,290.20Q499.38,289.30 497.48,288.40Q495.58,287.50 497.48,286.60Q499.38,285.70 497.48,284.80Q495.58,283.90 497.48,283.00Q499.38,282.10 497.48,281.20Q495.58,280.30 497.48,279.40Q499.38,278.50 497.48,277.60Q495.58,276.70 497.48,275.80Q499.38,274.90 497.48,274.00Q495.58,273.10 497.48,272.20Q499.38,271.30 497.48,270.40Q495.58,269.50 497.48,268.60Q499.38,267.70 497.48,266.80Q495.58,265.90 497.48,265.00Q499.38,264.10 497.48,263.20Q495.58,262.30 497.48,261.40Q499.38,260.50 497.48,259.60Q495.58,258.70 497.48,257.80Q499.38,256.90 497.48,256.00Q495.58,255.10 497.48,254.20Q499.38,253.30 497.48,252.40Q495.58,251.50 497.48,250.60Q499.38,249.70 497.48,248.80Q495.58,247.90 497.48,247.00Q499.38,246.10 497.48,245.20Q495.58,244.30 497.48,243.40Q499.38,242.50 497.48,241.60Q495.58,240.70 497.48,239.80Q499.38,238.90 497.48,238.00Q495.58,237.10 497.48,236.20Q499.38,235.30 497.48,234.40Q495.58,233.50 497.48,232.60Q499.38,231.70 497.48,230.80Q495.58,229.90 497.48,229.00Q499.38,228.10 497.48,227.20Q495.58,226.30 497.48,225.40Q499.38,224.50 497.48,223.60Q495.58,222.70 497.48,221.80Q499.38,220.90 497.48,220.00Q495.58,219.10 497.48,218.20Q499.38,217.30 497.48,216.40Q495.58,215.50 497.48,214.60Q499.38,213.70 497.48,212.80" stroke="#4a4a4a" stroke-width="0.72" fill="none"/>
<rect x="480.75" y="217.56" width="18.25" height="83.44" fill="none" stroke="#777" stroke-width="0.6" stroke-dasharray="1.1,0.9"/>
<text class="s" x="489.5" y="207.7">*</text>
<path d="M412.8,181.8 V301.0" stroke="#808080" stroke-width="1.0" fill="none"/>
<path d="M409,301.0 H511.3" stroke="#888" stroke-width="1.3" fill="none"/>
<text class="d" x="403" y="304.5" text-anchor="end" textLength="5.0" lengthAdjust="spacingAndGlyphs">0</text>
<path d="M409.40000000000003,261.3 H412.8" stroke="#888" stroke-width="0.9" fill="none"/>
<text class="d" x="403" y="264.8" text-anchor="end" textLength="15.1" lengthAdjust="spacingAndGlyphs">200</text>
<path d="M409.40000000000003,221.5 H412.8" stroke="#888" stroke-width="0.9" fill="none"/>
<text class="d" x="403" y="225.0" text-anchor="end" textLength="15.1" lengthAdjust="spacingAndGlyphs">400</text>
<path d="M409.40000000000003,181.8 H412.8" stroke="#888" stroke-width="0.9" fill="none"/>
<text class="d" x="403" y="185.3" text-anchor="end" textLength="15.1" lengthAdjust="spacingAndGlyphs">600</text>
<text class="dt" x="420.3" y="185">TGF-β</text>
<rect x="71" y="314.6" width="7.8" height="7.8" fill="#fff" stroke="#888" stroke-width="0.8"/>
<text class="t" x="80.6" y="322">untreated</text>
<rect x="134" y="314.3" width="8.2" height="8.3" fill="#666"/>
<text class="t" x="142.8" y="322">pDC/imiquimod</text>
<clipPath id="c15"><rect x="224.80" y="314.60" width="7.80" height="7.80"/></clipPath>
<rect x="224.80" y="314.60" width="7.80" height="7.80" fill="#fff"/>
<g clip-path="url(#c15)"><path d="M215.96,322.90L223.34,314.10M218.26,322.90L225.64,314.10M220.56,322.90L227.94,314.10M222.86,322.90L230.24,314.10M225.16,322.90L232.54,314.10M227.46,322.90L234.84,314.10M229.76,322.90L237.14,314.10M232.06,322.90L239.44,314.10M234.36,322.90L241.74,314.10" stroke="#2a2a2a" stroke-width="0.66" fill="none"/></g>
<rect x="224.80" y="314.60" width="7.80" height="7.80" fill="none" stroke="#444" stroke-width="0.6"/>
<text class="t" x="234.4" y="322">pDC/GpC-ODN</text>
<clipPath id="c16"><rect x="312.30" y="314.60" width="7.60" height="7.80"/></clipPath>
<rect x="312.30" y="314.60" width="7.60" height="7.80" fill="#fff"/>
<path clip-path="url(#c16)" d="M313.57,322.40Q315.47,321.50 313.57,320.60Q311.67,319.70 313.57,318.80Q315.47,317.90 313.57,317.00Q311.67,316.10 313.57,315.20Q315.47,314.30 313.57,313.40Q311.67,312.50 313.57,311.60Q315.47,310.70 313.57,309.80M316.10,322.40Q318.00,321.50 316.10,320.60Q314.20,319.70 316.10,318.80Q318.00,317.90 316.10,317.00Q314.20,316.10 316.10,315.20Q318.00,314.30 316.10,313.40Q314.20,312.50 316.10,311.60Q318.00,310.70 316.10,309.80M318.63,322.40Q320.53,321.50 318.63,320.60Q316.73,319.70 318.63,318.80Q320.53,317.90 318.63,317.00Q316.73,316.10 318.63,315.20Q320.53,314.30 318.63,313.40Q316.73,312.50 318.63,311.60Q320.53,310.70 318.63,309.80" stroke="#4a4a4a" stroke-width="0.72" fill="none"/>
<rect x="312.30" y="314.60" width="7.60" height="7.80" fill="none" stroke="#777" stroke-width="0.6" stroke-dasharray="1.1,0.9"/>
<text class="t" x="321.5" y="322" textLength="123.4" lengthAdjust="spacingAndGlyphs">pDC/imiquimod + GpC-ODN</text>
</g>
</svg></body></html>
